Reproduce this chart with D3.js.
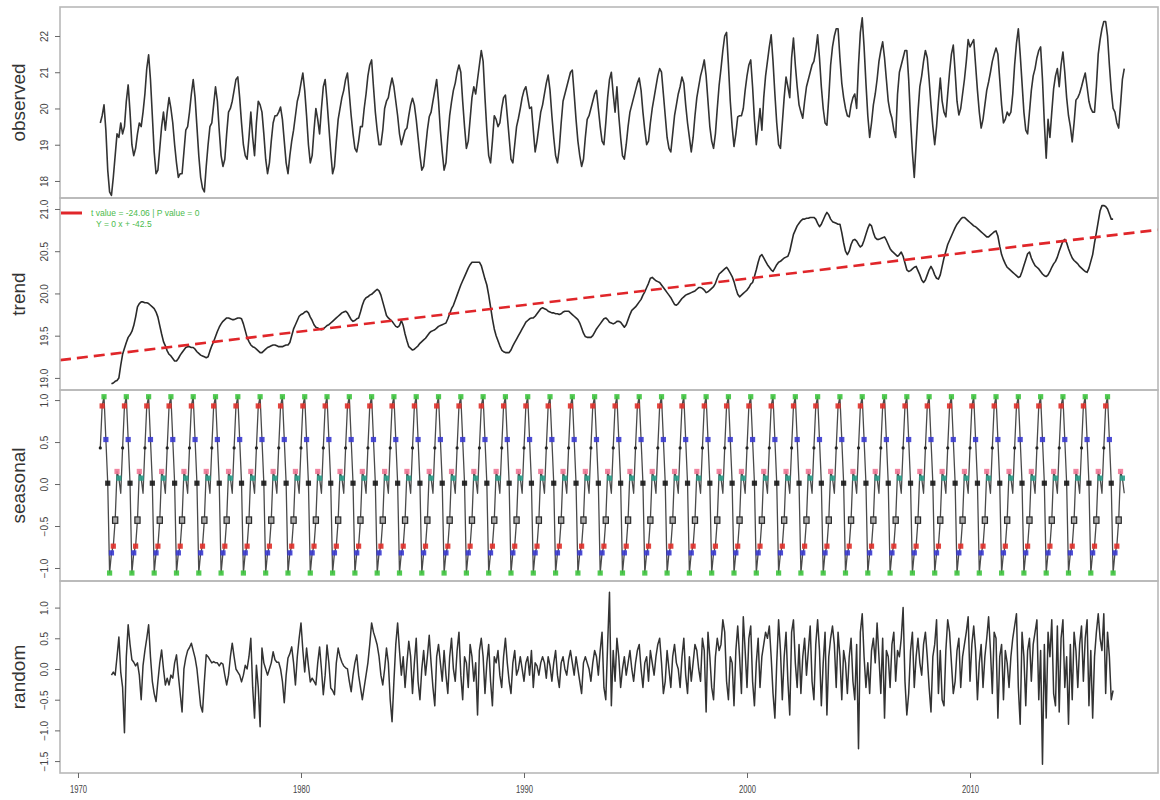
<!DOCTYPE html>
<html><head><meta charset="utf-8">
<script src="https://cdn.jsdelivr.net/npm/d3@7"></script>
<style>body{margin:0;background:#fff}svg{display:block}</style>
</head><body>
<svg id="chart" width="1160" height="800"></svg>
<script>
// ---------------- DATA ----------------
const startYear = 1971;            // first observation: Jan 1971, monthly to Dec 2016
const trendOffset = 6;             // trend / random start 6 months later (moving average)

const observed = [
 19.6,19.8,20.1,19.4,18.3,17.7,17.6,18.1,18.7,19.3,19.2,19.6,
 19.3,19.5,20.2,20.65,19.9,19.0,18.7,18.9,19.3,19.6,19.5,19.9,
 20.4,21.1,21.48,20.8,19.8,18.8,18.2,18.3,18.9,19.5,19.9,19.4,
 19.9,20.3,20.0,19.6,19.0,18.5,18.1,18.2,18.2,18.8,19.4,19.5,
 19.9,20.4,20.8,20.3,19.5,18.7,18.1,17.8,17.7,18.4,19.0,19.5,
 19.6,20.1,20.6,20.2,19.4,18.7,18.4,18.6,19.3,19.9,20.0,20.2,
 20.5,20.8,20.87,20.3,19.6,19.0,18.7,18.6,19.2,19.9,19.2,18.7,
 19.6,20.2,20.1,19.9,19.3,18.6,18.2,18.5,19.1,19.6,19.8,19.8,
 19.9,20.04,19.7,19.1,18.5,18.2,18.7,19.1,19.4,19.8,20.2,
 20.4,20.7,20.98,20.5,19.8,19.0,18.5,18.7,19.4,20.0,19.7,19.3,
 20.0,20.6,20.8,20.2,19.5,18.8,18.2,18.4,19.1,19.7,20.0,20.3,
 20.5,20.8,20.98,20.4,19.8,19.3,18.9,18.8,19.1,19.5,19.5,20.0,
 20.4,20.9,21.2,21.34,20.6,19.9,19.4,19.0,19.0,19.4,20.0,20.2,
 20.3,20.6,20.84,20.6,20.2,19.8,19.3,19.0,19.2,19.4,19.46,19.8,
 20.1,20.28,20.1,19.7,19.2,18.7,18.3,18.4,18.9,19.4,19.77,19.9,
 20.2,20.5,20.8,20.2,19.4,18.8,18.3,18.5,19.2,19.8,20.18,20.5,
 20.7,21.0,21.2,21.0,20.2,19.5,18.9,19.1,19.7,20.3,20.6,20.4,
 20.8,21.2,21.6,21.3,20.3,19.4,18.7,18.5,19.1,19.8,19.7,19.5,
 19.6,20.0,20.3,20.37,19.8,19.2,18.6,18.5,19.0,19.5,19.73,20.0,
 20.3,20.5,20.6,20.3,20.0,20.04,19.4,18.8,19.1,19.5,19.9,20.1,
 20.4,20.7,20.92,20.5,19.8,19.2,18.7,18.5,18.9,19.6,20.2,20.4,
 20.6,20.8,21.0,21.06,20.4,19.7,19.1,18.7,18.4,18.6,19.2,19.7,
 19.8,20.0,20.2,20.4,20.5,20.0,19.5,19.1,19.0,19.6,20.3,20.8,
 21.0,20.4,19.9,20.6,19.8,19.2,18.7,18.6,19.0,19.5,19.9,20.1,
 20.3,20.5,20.7,20.84,20.5,19.9,19.4,19.0,19.1,19.6,20.0,20.3,
 20.6,20.9,21.1,21.0,20.4,19.8,19.2,18.9,18.8,19.3,19.8,20.1,
 20.4,20.6,20.87,20.7,20.1,19.6,19.2,18.8,19.2,19.8,20.3,
 20.6,20.9,21.1,21.34,20.9,20.2,19.5,19.1,18.9,19.3,20.0,20.64,
 21.1,21.6,22.0,22.1,21.2,20.2,19.5,18.95,19.3,19.77,19.8,19.8,
 20.0,20.5,20.9,21.2,21.34,20.6,19.7,19.0,19.5,20.0,19.4,20.3,
 20.9,21.3,21.7,22.03,21.3,20.4,19.6,19.0,18.9,19.6,20.3,20.87,
 20.6,20.3,21.4,21.94,21.2,20.6,20.1,19.9,19.73,20.2,20.6,20.8,
 21.0,21.2,21.3,21.6,22.03,21.4,20.6,20.0,19.6,19.54,20.3,21.2,
 21.7,22.0,22.2,22.2,21.4,20.7,20.3,20.0,19.8,19.77,20.1,20.3,
 20.4,20.0,21.2,22.1,22.5,21.7,20.7,19.8,19.2,19.6,20.1,20.4,
 20.8,21.3,21.6,21.84,21.4,20.8,20.2,19.9,19.73,19.4,19.2,20.4,
 21.0,21.2,21.4,21.6,21.6,20.8,19.7,18.8,18.1,19.0,19.9,20.6,
 20.9,21.3,21.6,21.4,20.8,20.1,19.5,19.0,19.5,20.2,20.84,20.2,
 19.9,19.77,20.4,21.0,21.5,21.75,21.0,20.2,19.82,20.0,20.4,20.8,
 21.3,21.9,21.7,21.8,21.9,21.2,20.5,19.9,19.46,19.7,20.1,20.5,
 20.73,21.0,21.3,21.5,21.67,21.5,20.8,20.1,19.6,19.7,19.9,19.8,
 19.9,20.4,21.2,21.8,22.2,21.5,20.7,19.9,19.4,19.3,19.9,20.5,
 20.9,21.1,21.4,21.6,21.7,20.8,19.6,18.63,19.7,19.2,19.9,20.55,
 20.9,21.1,20.6,21.2,21.56,21.0,20.3,19.8,19.5,19.08,19.6,20.23,
 20.3,20.42,20.6,20.8,20.98,20.6,20.2,20.0,19.9,19.9,20.6,21.5,
 21.9,22.2,22.4,22.4,22.0,21.2,20.5,20.0,19.9,19.6,19.46,20.1,20.8,21.1
];

const trend = [
 18.93,18.94,18.96,18.97,19.0,19.15,
 19.28,19.35,19.42,19.48,19.51,19.55,19.62,19.72,19.84,19.88,19.9,19.9,
 19.89,19.89,19.88,19.86,19.84,19.82,19.78,19.72,19.62,19.52,19.43,19.38,
 19.32,19.28,19.26,19.23,19.2,19.2,19.23,19.27,19.3,19.33,19.36,19.37,
 19.37,19.36,19.36,19.34,19.31,19.29,19.27,19.26,19.25,19.24,19.25,19.32,
 19.38,19.43,19.49,19.55,19.6,19.64,19.67,19.69,19.71,19.71,19.7,19.69,
 19.69,19.7,19.71,19.71,19.7,19.64,19.56,19.48,19.43,19.39,19.37,19.36,
 19.34,19.32,19.3,19.3,19.32,19.34,19.36,19.37,19.38,19.39,19.39,19.38,
 19.37,19.37,19.37,19.38,19.39,19.39,19.42,19.5,19.58,19.63,19.68,19.73,
 19.75,19.76,19.78,19.79,19.77,19.72,19.68,19.63,19.6,19.59,19.58,
 19.57,19.58,19.6,19.62,19.63,19.65,19.67,19.69,19.71,19.73,19.75,19.77,
 19.78,19.79,19.77,19.73,19.69,19.67,19.68,19.7,19.71,19.78,19.86,19.92,
 19.95,19.96,19.98,19.99,20.01,20.03,20.05,20.03,19.98,19.9,19.82,19.74,
 19.71,19.69,19.67,19.64,19.61,19.6,19.62,19.68,19.62,19.52,19.44,19.37,
 19.35,19.33,19.34,19.36,19.38,19.41,19.43,19.45,19.47,19.5,19.53,19.55,
 19.56,19.57,19.59,19.61,19.62,19.63,19.64,19.65,19.7,19.76,19.82,19.86,
 19.92,19.98,20.04,20.1,20.15,20.2,20.25,20.3,20.34,20.37,20.37,20.37,
 20.37,20.37,20.33,20.25,20.17,20.1,19.98,19.84,19.7,19.58,19.5,19.44,
 19.38,19.33,19.31,19.3,19.3,19.3,19.33,19.38,19.42,19.46,19.5,19.54,
 19.58,19.62,19.66,19.68,19.7,19.71,19.71,19.73,19.76,19.79,19.82,19.83,
 19.82,19.81,19.79,19.78,19.77,19.77,19.76,19.76,19.75,19.76,19.78,19.79,
 19.79,19.79,19.77,19.75,19.73,19.71,19.69,19.65,19.59,19.53,19.49,19.48,
 19.48,19.48,19.5,19.54,19.58,19.61,19.64,19.67,19.7,19.71,19.69,19.66,
 19.65,19.64,19.65,19.67,19.67,19.66,19.63,19.6,19.63,19.69,19.75,19.8,
 19.82,19.84,19.87,19.9,19.93,19.98,20.02,20.07,20.12,20.18,20.19,20.17,
 20.15,20.14,20.13,20.1,20.07,20.04,20.01,19.98,19.95,19.91,19.87,19.86,
 19.88,19.91,19.94,19.96,19.98,19.99,20.0,20.01,20.02,20.03,20.05,20.07,
 20.07,20.06,20.04,20.01,20.02,20.04,20.06,20.08,20.12,20.18,20.23,
 20.25,20.27,20.29,20.31,20.28,20.24,20.2,20.14,20.06,19.99,19.96,19.98,
 20.0,20.02,20.04,20.07,20.11,20.13,20.2,20.28,20.37,20.44,20.46,20.42,
 20.38,20.34,20.31,20.28,20.26,20.3,20.34,20.37,20.38,20.4,20.42,20.43,
 20.44,20.5,20.6,20.7,20.75,20.8,20.83,20.86,20.88,20.88,20.89,20.89,
 20.9,20.9,20.9,20.88,20.83,20.79,20.82,20.87,20.92,20.96,20.93,20.88,
 20.85,20.84,20.83,20.82,20.82,20.72,20.6,20.5,20.46,20.5,20.58,20.63,
 20.64,20.62,20.58,20.55,20.57,20.63,20.7,20.77,20.82,20.8,20.72,20.66,
 20.64,20.64,20.65,20.66,20.67,20.63,20.58,20.53,20.5,20.48,20.46,20.44,
 20.46,20.49,20.44,20.36,20.28,20.26,20.27,20.29,20.31,20.32,20.27,20.22,
 20.16,20.13,20.16,20.22,20.28,20.32,20.28,20.22,20.18,20.17,20.22,20.32,
 20.42,20.5,20.58,20.63,20.68,20.73,20.78,20.82,20.85,20.88,20.9,20.9,
 20.88,20.86,20.84,20.82,20.8,20.79,20.77,20.75,20.73,20.71,20.69,20.67,
 20.67,20.69,20.71,20.73,20.74,20.68,20.56,20.46,20.4,20.35,20.31,20.29,
 20.27,20.25,20.23,20.21,20.19,20.2,20.26,20.33,20.4,20.47,20.49,20.42,
 20.37,20.33,20.31,20.29,20.26,20.23,20.21,20.2,20.22,20.26,20.31,20.35,
 20.38,20.43,20.5,20.56,20.62,20.64,20.6,20.53,20.47,20.42,20.39,20.37,
 20.35,20.32,20.3,20.28,20.26,20.25,20.3,20.38,20.46,20.6,20.72,20.85,
 20.98,21.04,21.04,21.03,21.0,20.94,20.88,20.88
];

// seasonal figure for each calendar month (Jan..Dec), repeated every year
const seasonalMonthly = [0.43,0.93,1.04,0.53,0.01,-1.06,-0.82,-0.74,-0.43,0.15,0.07,-0.11];
const seasonalMarkColor = ["#222222","#e0302a","#3fc43f","#3a3ad0","#1a1a1a","#3fc43f","#3a3ad0","#e0302a","#2a2a2a","#f07896","#2a9d8a","#1a1a1a"];
const seasonalMarkShape = ["dot","square","square","square","square","square","square","square","box","square","square","none"];

const random = [
 -0.1,-0.05,-0.1,0.2,0.52,-0.05,
 -0.3,-1.04,0.2,0.72,0.4,0.15,0.11,0.05,0.1,-0.1,-0.5,0.06,
 0.3,0.5,0.72,0.2,-0.2,-0.4,-0.53,-0.2,0.1,0.31,0.0,-0.26,
 -0.15,-0.26,-0.1,-0.15,0.1,0.23,-0.1,-0.4,-0.7,0.0,0.18,0.3,
 0.35,0.42,0.3,0.18,0.0,-0.3,-0.6,-0.7,-0.2,0.23,0.2,0.15,
 0.1,0.12,0.1,0.1,0.05,0.1,0.08,-0.1,-0.26,-0.1,0.2,0.42,
 0.2,0.0,-0.05,-0.1,-0.21,-0.1,0.06,0.0,0.2,0.5,-0.3,-0.8,
 0.06,-0.3,-0.94,0.34,0.1,0.0,-0.1,0.0,0.1,0.28,0.15,0.11,
 0.11,0.0,-0.2,-0.55,-0.1,0.18,0.25,0.36,0.1,-0.26,0.2,0.5,
 0.75,0.3,-0.05,0.34,0.05,-0.21,-0.15,-0.2,-0.26,0.1,0.36,
 0.0,-0.42,-0.1,0.39,0.1,-0.31,-0.35,-0.42,0.1,0.34,0.2,0.11,
 0.05,0.02,0.0,-0.2,-0.37,-0.1,0.1,0.23,-0.1,-0.3,-0.5,-0.3,
 -0.1,0.1,0.4,0.75,0.6,0.5,0.39,0.2,-0.1,-0.26,0.0,0.34,
 0.1,-0.5,-0.86,-0.2,0.4,0.75,0.3,-0.1,0.2,-0.3,0.1,0.45,
 0.2,-0.4,0.1,0.5,-0.2,-0.5,0.0,0.3,-0.1,0.2,0.55,0.1,
 -0.3,-0.6,0.2,0.4,0.1,-0.2,0.3,-0.1,-0.4,0.2,0.5,0.0,
 -0.2,0.3,0.6,-0.1,-0.5,0.2,0.1,-0.3,0.4,0.2,-0.2,0.1,
 -0.75,0.3,0.5,0.2,-0.4,0.1,0.4,-0.2,-0.6,0.2,0.1,0.3,
 -0.1,-0.3,0.2,0.5,0.1,-0.2,-0.4,0.1,0.3,-0.1,0.0,0.2,
 0.0,-0.2,0.1,0.2,-0.1,0.3,-0.3,0.1,0.05,-0.1,0.1,0.2,
 0.1,-0.15,0.2,0.05,-0.2,0.1,0.3,-0.1,-0.3,0.1,0.2,0.0,
 -0.1,0.15,0.3,0.1,-0.1,0.2,0.0,-0.2,-0.4,0.1,0.2,0.1,
 0.0,-0.2,0.1,0.3,0.2,-0.1,0.3,0.6,-0.3,-0.5,0.4,1.25,
 -0.6,0.3,-0.2,0.5,0.2,-0.3,0.0,0.2,-0.1,0.1,0.3,0.0,
 -0.2,0.1,0.3,0.4,0.0,-0.3,0.1,0.2,-0.2,0.3,0.1,-0.1,
 0.2,0.4,0.5,0.1,-0.4,-0.2,0.3,0.0,-0.3,0.2,0.4,0.1,
 0.0,-0.3,0.2,0.5,-0.1,-0.4,0.2,-0.2,0.1,0.4,0.3,0.0,
 -0.2,0.5,0.3,-0.7,0.6,0.2,-0.3,-0.5,0.2,0.5,0.3,
 0.4,0.8,0.6,-0.2,-0.5,0.2,0.1,-0.6,0.3,0.7,0.2,-0.4,
 0.85,0.3,-0.3,0.5,0.7,-0.2,-0.6,0.1,0.5,-0.3,0.2,0.4,
 0.6,0.5,0.7,0.2,-0.4,-0.8,0.1,0.8,0.3,-0.5,0.2,0.6,
 -0.2,-0.75,0.6,0.8,0.1,-0.3,0.4,-0.4,0.2,0.5,-0.1,0.3,
 0.7,-0.2,-0.5,0.4,0.8,0.3,-0.6,0.1,0.6,-0.75,0.2,0.5,
 0.7,0.4,-0.3,0.6,0.2,-0.5,0.3,0.1,-0.4,0.2,0.5,-0.2,
 -0.5,0.4,-1.3,0.6,0.9,0.2,-0.3,0.1,-0.4,0.3,0.5,0.1,
 0.75,0.2,-0.4,0.5,-0.8,0.3,0.2,-0.3,0.4,0.6,-0.2,0.3,
 0.2,0.5,1.0,-0.2,-0.75,-0.4,0.3,0.6,-0.3,0.2,0.5,0.1,
 -0.1,0.4,0.6,0.2,-0.3,-0.7,0.2,0.4,0.8,-0.4,0.3,-0.5,
 -0.6,0.3,0.8,0.6,0.1,-0.4,-0.2,0.3,0.5,-0.3,0.2,0.4,
 0.6,0.85,-0.2,0.4,0.7,0.3,-0.5,0.1,0.4,-0.3,0.2,0.5,
 0.85,0.3,-0.4,0.6,0.5,-0.8,0.2,0.4,-0.5,0.3,0.1,-0.3,
 0.2,0.5,0.7,0.9,-0.3,-0.9,0.6,0.2,-0.6,0.3,0.5,-0.2,
 0.4,0.6,0.8,-0.5,0.3,-1.55,0.4,-0.8,0.6,0.2,0.8,-0.4,
 -0.6,0.7,-0.7,0.5,0.8,-0.3,0.2,-0.9,0.4,-0.5,0.6,0.3,
 -0.3,0.4,0.7,-0.2,0.5,0.8,-0.6,0.3,-0.8,0.2,0.6,0.9,
 0.5,0.3,0.9,-0.4,0.6,0.2,-0.5,-0.35
];

const xTickYears = [1970,1980,1990,2000,2010];
const observedTicks = [18,19,20,21,22];
const trendTicks = [19.0,19.5,20.0,20.5,21.0];
const seasonalTicks = [-1.0,-0.5,0.0,0.5,1.0];
const randomTicks = [-1.5,-1.0,-0.5,0.0,0.5,1.0];

// linear fit shown on the trend panel (legend values)
const fitIntercept = -42.5;
const fitSlope = 0.031338;
const legendText = ["t value = -24.06 | P value = 0", "Y = 0 x + -42.5"];

// ---------------- DRAW ----------------
const svg = d3.select("#chart");
const L = 60, R = 1158;
const x = d3.scaleLinear().domain([1969.193, 2018.43]).range([L, R]);
const monthT = (i) => startYear + i / 12;
const FONT = "Liberation Sans, Arial, sans-serif";

const panels = [
  {title:"observed", top:7,   bottom:198, domain:[17.53,22.8],   ticks:observedTicks, fmt:d3.format("d")},
  {title:"trend",    top:198, bottom:390, domain:[18.857,21.13], ticks:trendTicks,    fmt:d3.format(".1f")},
  {title:"seasonal", top:390, bottom:581, domain:[-1.155,1.12],  ticks:seasonalTicks, fmt:d3.format(".1f")},
  {title:"random",   top:581, bottom:773, domain:[-1.694,1.433], ticks:randomTicks,   fmt:d3.format(".1f")}
];
panels.forEach(p => { p.y = d3.scaleLinear().domain(p.domain).range([p.bottom, p.top]); });

const defs = svg.append("defs");
panels.forEach((p,k) => {
  defs.append("clipPath").attr("id","clip"+k).append("rect")
    .attr("x",L).attr("y",p.top).attr("width",R-L).attr("height",p.bottom-p.top);
});

const lineColor = "#333";
function drawSeries(p, k, values, offset, color, width){
  const line = d3.line().x((d,i)=>x(monthT(i+offset))).y(d=>p.y(d));
  svg.append("path").attr("clip-path",`url(#clip${k})`)
    .attr("d", line(values)).attr("fill","none")
    .attr("stroke", color).attr("stroke-width", width).attr("stroke-linejoin","round");
}

// observed
drawSeries(panels[0],0,observed,0,lineColor,1.6);

// trend + fit line
drawSeries(panels[1],1,trend,trendOffset,"#2a2a2a",1.6);
const xd = x.domain();
svg.append("line").attr("clip-path","url(#clip1)")
  .attr("x1",x(xd[0])).attr("y1",panels[1].y(fitIntercept+fitSlope*xd[0]))
  .attr("x2",x(xd[1])).attr("y2",panels[1].y(fitIntercept+fitSlope*xd[1]))
  .attr("stroke","#e0262a").attr("stroke-width",2.6).attr("stroke-dasharray","11,6");

// legend
svg.append("line").attr("x1",61).attr("x2",82).attr("y1",213).attr("y2",213)
  .attr("stroke","#e0262a").attr("stroke-width",3);
legendText.forEach((t,i)=>{
  svg.append("text").attr("x", i===0?91:96).attr("y",216+i*11)
    .attr("font-family",FONT).attr("font-size",8.5)
    .attr("fill","#4cbb4c").text(t);
});

// seasonal
const seasonal = observed.map((d,i)=>seasonalMonthly[i%12]);
drawSeries(panels[2],2,seasonal,0,"#4a4a4a",1.3);
const sg = svg.append("g").attr("clip-path","url(#clip2)");
seasonal.forEach((v,i)=>{
  const m = i%12, shape = seasonalMarkShape[m];
  const cx = x(monthT(i)), cy = panels[2].y(v);
  if (shape==="none") return;
  if (shape==="dot"){
    sg.append("circle").attr("cx",cx).attr("cy",cy).attr("r",1.6).attr("fill",seasonalMarkColor[m]);
  } else if (shape==="box"){
    sg.append("rect").attr("x",cx-2.6).attr("y",cy-3.2).attr("width",5.2).attr("height",6.4)
      .attr("fill","#a8a8a8").attr("stroke",seasonalMarkColor[m]).attr("stroke-width",1.2);
  } else {
    sg.append("rect").attr("x",cx-2.6).attr("y",cy-2.6).attr("width",5.2).attr("height",5.2)
      .attr("fill",seasonalMarkColor[m]).attr("opacity",0.9);
  }
});

// random
drawSeries(panels[3],3,random,trendOffset,lineColor,1.5);

// frames, y axes, titles
panels.forEach((p,k)=>{
  svg.append("rect").attr("x",L).attr("y",p.top).attr("width",R-L).attr("height",p.bottom-p.top)
    .attr("fill","none").attr("stroke","#b8b8b8").attr("stroke-width",1.6);
  const ax = svg.append("g").attr("transform",`translate(${L},0)`)
    .call(d3.axisLeft(p.y).tickValues(p.ticks).tickSize(5).tickFormat(p.fmt));
  ax.select(".domain").remove();
  ax.selectAll(".tick line").attr("stroke","#666");
  ax.selectAll(".tick text")
    .attr("x",null).attr("dy",null)
    .attr("transform","translate(-12,0) rotate(-90)")
    .attr("text-anchor","middle")
    .attr("font-family",FONT)
    .attr("font-size",10).attr("fill","#444");
  svg.append("text")
    .attr("transform",`translate(25,${(p.top+p.bottom)/2}) rotate(-90)`)
    .attr("text-anchor","middle")
    .attr("font-family",FONT)
    .attr("font-size",19).attr("fill","#333").text(p.title);
});

// x axis
const xa = svg.append("g").attr("transform",`translate(0,${panels[3].bottom})`)
  .call(d3.axisBottom(x).tickValues(xTickYears).tickSize(5).tickFormat(d3.format("d")));
xa.select(".domain").remove();
xa.selectAll(".tick line").attr("stroke","#666");
xa.selectAll(".tick text").attr("y",13)
  .attr("font-family",FONT)
  .attr("font-size",10).attr("fill","#444")
  .attr("textLength",17).attr("lengthAdjust","spacingAndGlyphs");
</script>
</body></html>
